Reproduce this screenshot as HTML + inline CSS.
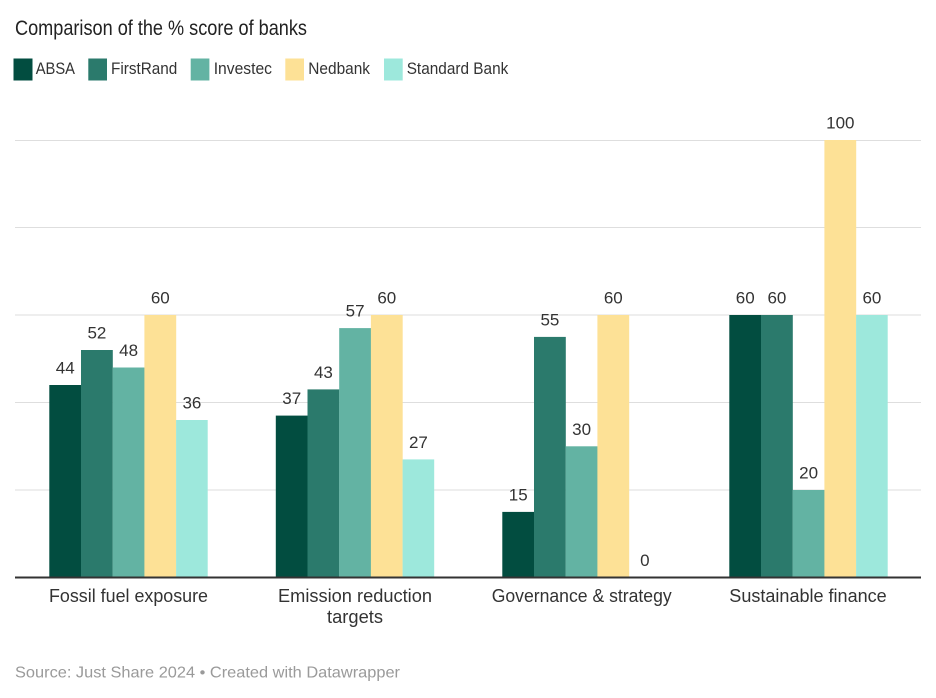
<!DOCTYPE html>
<html><head><meta charset="utf-8"><style>
html,body{margin:0;padding:0;background:#fff;}
svg{display:block;font-family:"Liberation Sans",sans-serif;}
</style></head><body>
<svg width="936" height="698" viewBox="0 0 936 698" xmlns="http://www.w3.org/2000/svg">
<rect width="936" height="698" fill="#fff"/>
<text x="15" y="35" font-size="21" fill="#222" textLength="292" lengthAdjust="spacingAndGlyphs">Comparison of the % score of banks</text>
<g font-size="17" fill="#333">
<rect x="13.5" y="58.5" width="19" height="22" fill="#024d40"/>
<text x="35.7" y="74" textLength="39.3" lengthAdjust="spacingAndGlyphs">ABSA</text>
<rect x="88.3" y="58.5" width="18.7" height="22" fill="#2b7a6c"/>
<text x="111" y="74" textLength="66.3" lengthAdjust="spacingAndGlyphs">FirstRand</text>
<rect x="190.7" y="58.5" width="18.7" height="22" fill="#63b3a3"/>
<text x="213.7" y="74" textLength="58.3" lengthAdjust="spacingAndGlyphs">Investec</text>
<rect x="285.3" y="58.5" width="18.7" height="22" fill="#fde196"/>
<text x="308.3" y="74" textLength="61.7" lengthAdjust="spacingAndGlyphs">Nedbank</text>
<rect x="384" y="58.5" width="18.7" height="22" fill="#9de8dc"/>
<text x="406.7" y="74" textLength="101.6" lengthAdjust="spacingAndGlyphs">Standard Bank</text>
</g>
<g stroke="#dedede" stroke-width="1">
<line x1="15" x2="921" y1="140.5" y2="140.5"/>
<line x1="15" x2="921" y1="227.5" y2="227.5"/>
<line x1="15" x2="921" y1="315" y2="315"/>
<line x1="15" x2="921" y1="402.5" y2="402.5"/>
<line x1="15" x2="921" y1="490" y2="490"/>
</g>
<g>
<rect x="49.3" y="385" width="31.8" height="192.5" fill="#024d40"/>
<rect x="81" y="350" width="31.8" height="227.5" fill="#2b7a6c"/>
<rect x="112.7" y="367.5" width="31.8" height="210" fill="#63b3a3"/>
<rect x="144.4" y="315" width="31.8" height="262.5" fill="#fde196"/>
<rect x="176.1" y="420" width="31.6" height="157.5" fill="#9de8dc"/>
<rect x="275.8" y="415.6" width="31.8" height="161.9" fill="#024d40"/>
<rect x="307.5" y="389.4" width="31.8" height="188.1" fill="#2b7a6c"/>
<rect x="339.2" y="328.1" width="31.8" height="249.4" fill="#63b3a3"/>
<rect x="370.9" y="315" width="31.8" height="262.5" fill="#fde196"/>
<rect x="402.6" y="459.4" width="31.6" height="118.1" fill="#9de8dc"/>
<rect x="502.3" y="511.9" width="31.8" height="65.6" fill="#024d40"/>
<rect x="534" y="336.9" width="31.8" height="240.6" fill="#2b7a6c"/>
<rect x="565.7" y="446.3" width="31.8" height="131.2" fill="#63b3a3"/>
<rect x="597.4" y="315" width="31.8" height="262.5" fill="#fde196"/>
<rect x="729.3" y="315" width="31.8" height="262.5" fill="#024d40"/>
<rect x="761" y="315" width="31.8" height="262.5" fill="#2b7a6c"/>
<rect x="792.7" y="490" width="31.8" height="87.5" fill="#63b3a3"/>
<rect x="824.4" y="140" width="31.8" height="437.5" fill="#fde196"/>
<rect x="856.1" y="315" width="31.6" height="262.5" fill="#9de8dc"/>
</g>
<line x1="15" x2="921" y1="577.5" y2="577.5" stroke="#333" stroke-width="2"/>
<g font-size="17" fill="#333" text-anchor="middle">
<text x="65.2" y="373.5">44</text>
<text x="96.9" y="338.5">52</text>
<text x="128.6" y="356">48</text>
<text x="160.3" y="303.5">60</text>
<text x="191.9" y="408.5">36</text>
<text x="291.7" y="404">37</text>
<text x="323.4" y="378">43</text>
<text x="355.1" y="316.5">57</text>
<text x="386.8" y="303.5">60</text>
<text x="418.4" y="448">27</text>
<text x="518.2" y="500.5">15</text>
<text x="549.9" y="325.5">55</text>
<text x="581.6" y="435">30</text>
<text x="613.3" y="303.5">60</text>
<text x="644.9" y="566">0</text>
<text x="745.2" y="303.5">60</text>
<text x="776.9" y="303.5">60</text>
<text x="808.6" y="478.5">20</text>
<text x="840.3" y="128.5">100</text>
<text x="871.9" y="303.5">60</text>
</g>
<g font-size="18" fill="#333" text-anchor="middle">
<text x="128.5" y="602" textLength="159" lengthAdjust="spacingAndGlyphs">Fossil fuel exposure</text>
<text x="355" y="602" textLength="154" lengthAdjust="spacingAndGlyphs">Emission reduction</text>
<text x="355" y="623" textLength="56" lengthAdjust="spacingAndGlyphs">targets</text>
<text x="581.7" y="602" textLength="180" lengthAdjust="spacingAndGlyphs">Governance &amp; strategy</text>
<text x="808" y="602" textLength="157.4" lengthAdjust="spacingAndGlyphs">Sustainable finance</text>
</g>
<text x="15" y="677.5" font-size="16" fill="#9a9a9a" textLength="385" lengthAdjust="spacingAndGlyphs">Source: Just Share 2024 • Created with Datawrapper</text>
</svg>
</body></html>
